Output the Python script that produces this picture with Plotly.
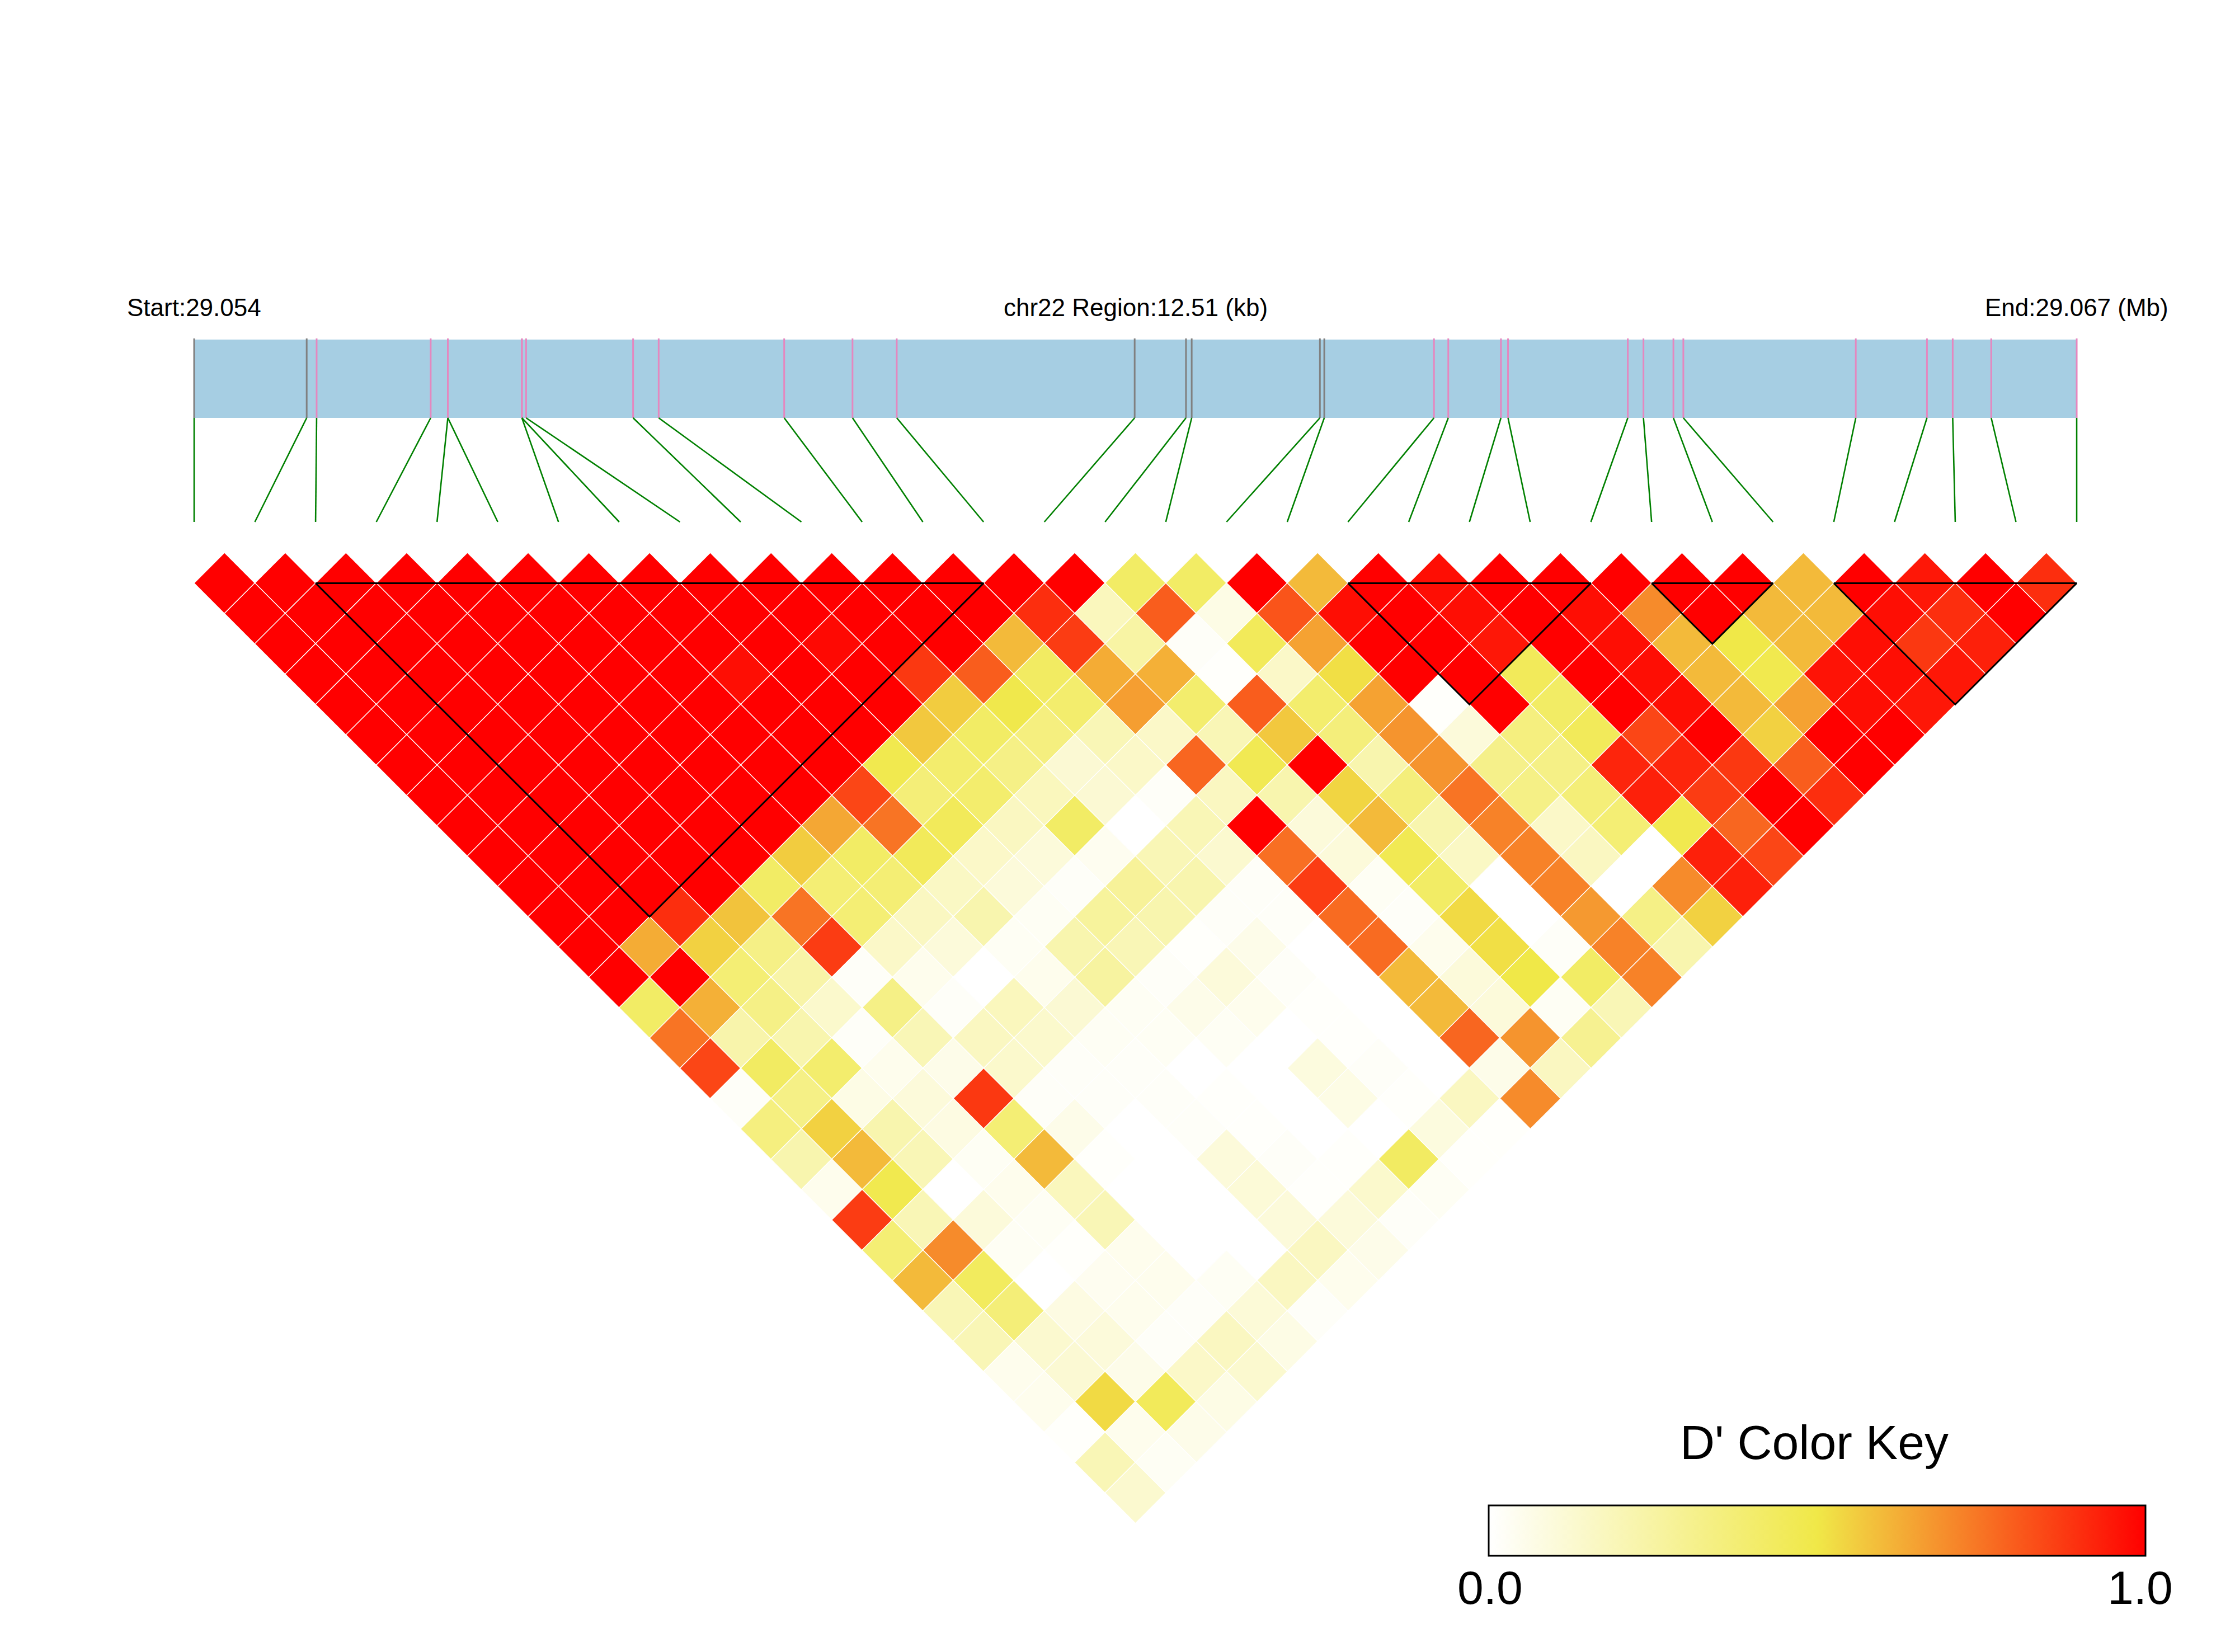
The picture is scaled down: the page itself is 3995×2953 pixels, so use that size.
import plotly.graph_objects as go

# --- SNP positions along the region, kb from region start ---
snp_pos_kb = [0.000, 0.748, 0.814, 1.572, 1.686, 1.686, 2.178, 2.178, 2.206, 2.917, 3.087,
              3.921, 4.375, 4.669, 6.250, 6.591, 6.629, 7.481, 7.510, 8.239, 8.334, 8.684,
              8.731, 9.527, 9.631, 9.830, 9.896, 11.042, 11.515, 11.686, 11.942, 12.510]
region_kb = 12.51

# --- LD blocks (first SNP, last SNP) ---
blocks = [(2, 13), (19, 23), (24, 26), (27, 31)]

# --- D' values; d_kk = pairs of SNPs kk apart, left to right ---
d_01 = [1,1,1,1,1,1,1,1,1,1,1,1,1,1,1,.42,.42,1,.6,1,.97,1,1,1,1,1,.6,1,.95,1,.9]
d_02 = [1,1,1,1,1,1,1,1,1,1,1,1,1,.9,.18,.8,.07,.82,.97,1,.97,1,.97,.7,1,.6,.6,.97,.9,1]
d_03 = [1,1,1,1,1,1,1,1,1,.98,1,1,.6,.87,.25,.02,.45,.65,1,1,.95,1,.97,.6,.5,.6,.97,.88,.93]
d_04 = [1,1,1,1,1,1,1,.97,1,1,.88,.8,.43,.63,.62,.01,.15,.52,1,1,.45,1,.97,.6,.48,.96,.97,.95]
d_05 = [1,1,1,1,1,1,1,1,1,1,.56,.49,.4,.66,.4,.8,.4,.65,.01,1,.42,1,.97,.6,.65,.97,.95]
d_06 = [1,1,1,1,1,1,1,1,1,.57,.42,.35,.2,.15,.2,.57,.36,.68,.1,.35,.45,.85,1,.55,1,1]
d_07 = [1,1,1,1,1,1,1,1,.48,.4,.33,.12,.15,.78,.47,1,.22,.68,.32,.33,.92,.92,.88,.8,1]
d_08 = [1,1,1,1,1,1,1,.85,.37,.4,.18,.12,.02,.17,.22,.54,.36,.75,.33,.37,.93,.87,1,.9]
d_09 = [1,1,1,1,1,1,.64,.75,.45,.17,.42,0,.2,1,.1,.6,.22,.72,.15,.38,.48,.78,1]
d_10 = [1,1,1,1,1,.56,.42,.45,.15,.1,.04,.2,.13,.76,.1,.47,.16,.72,.17,0,.93,.85]
d_11 = [1,1,1,1,.42,.38,.38,.16,.1,.02,.28,.22,.02,.87,.03,.42,0,.72,0,.7,.93]
d_12 = [1,1,.9,.58,.75,.38,.17,.22,.03,.27,.22,.02,.02,.77,.02,.53,0,.67,.33,.55]
d_13 = [1,.63,.55,.33,.87,.15,.1,.03,.22,.2,.01,.06,0,.77,.05,.52,.02,.72,.22]
d_14 = [1,1,.38,.24,.02,.05,0,.05,.26,.02,.1,.02,0,.6,.1,.5,.42,.72]
d_15 = [.42,.62,.33,.14,.33,.02,.18,.12,.03,.06,.05,.01,0,.6,.1,.03,.2]
d_16 = [.75,.23,.22,.02,.2,.17,.14,.03,.03,.03,0,.01,0,.78,.68,.3]
d_17 = [.85,.43,.4,.05,.06,.14,.02,.02,0,0,.09,.02,0,.06,.17]
d_18 = [.02,.33,.07,.1,.88,.02,.02,.02,.01,0,.07,.01,.17,.7]
d_19 = [.35,.55,.22,.08,.38,.06,0,.02,.01,0,0,.09,.01]
d_20 = [.22,.6,.2,.03,.6,.01,0,.1,.02,.01,.43,.01]
d_21 = [.05,.48,0,.05,.18,0,0,.11,.01,.14,.03]
d_22 = [.87,.2,.1,.03,.2,0,0,.1,.1,.02]
d_23 = [.38,.7,.03,.01,.05,0,0,.17,.06]
d_24 = [.6,.44,0,.04,.05,.03,.17,.05]
d_25 = [.2,.37,.08,.05,.02,.11,.02]
d_26 = [.2,.13,.1,.02,.17,.07]
d_27 = [.05,.12,.06,.15,.13]
d_28 = [.05,.53,.45,.07]
d_29 = [.01,.05,.06]
d_30 = [.2,.03]
d_31 = [.13]
d_rows = [d_01,d_02,d_03,d_04,d_05,d_06,d_07,d_08,d_09,d_10,d_11,d_12,d_13,d_14,d_15,d_16,
          d_17,d_18,d_19,d_20,d_21,d_22,d_23,d_24,d_25,d_26,d_27,d_28,d_29,d_30,d_31]

start_label = "Start:29.054"
mid_label = "chr22 Region:12.51 (kb)"
end_label = "End:29.067 (Mb)"
key_title = "D' Color Key"
key_ticks = ["0.0", "1.0"]

# --- layout constants (pixels of the 3995x2953 page) ---
W, H = 3995, 2953
X0, DX = 347.0, 108.55      # x pixel of SNP 0, pixels per SNP
Y0, DY = 1042.4, 54.2       # y pixel of row 1, pixels per row
def yrow(px):
    return 1 + (px - Y0) / DY

BAR_TOP, BAR_BOT, LINK_END = yrow(607), yrow(747), yrow(933)
TICK_TOP = yrow(605)
n = len(snp_pos_kb)
snp_x = [p / region_kb * (n - 1) for p in snp_pos_kb]

colorscale = [[0, "rgb(255,255,255)"], [0.5, "rgb(240,232,72)"], [1, "rgb(255,0,0)"]]

cx, cy, cz = [], [], []
for k, row in enumerate(d_rows, start=1):
    for p, v in enumerate(row):
        cx.append(p + k / 2)
        cy.append(k)
        cz.append(v)

in_block = [any(a <= i <= b for a, b in blocks) for i in range(n)]

def seg(idx):
    xs, ys = [], []
    for i in idx:
        xs += [snp_x[i], snp_x[i], None]
        ys += [TICK_TOP, BAR_BOT, None]
    return xs, ys

fig = go.Figure()
fig.add_shape(type="rect", xref="x", yref="y", x0=0, x1=n - 1, y0=BAR_TOP, y1=BAR_BOT,
              fillcolor="#A6CEE3", line_width=0, layer="below")

gx, gy = seg([i for i in range(n) if not in_block[i]])
fig.add_trace(go.Scatter(x=gx, y=gy, mode="lines", line=dict(color="#808080", width=3), hoverinfo="skip", showlegend=False))
px_, py_ = seg([i for i in range(n) if in_block[i]])
fig.add_trace(go.Scatter(x=px_, y=py_, mode="lines", line=dict(color="#E587BF", width=3), hoverinfo="skip", showlegend=False))

lx, ly = [], []
for i in range(n):
    lx += [snp_x[i], i, None]
    ly += [BAR_BOT, LINK_END, None]
fig.add_trace(go.Scatter(x=lx, y=ly, mode="lines", line=dict(color="#008000", width=2.6), hoverinfo="skip", showlegend=False))

fig.add_trace(go.Scatter(
    x=cx, y=cy, mode="markers", showlegend=False,
    marker=dict(symbol="diamond", size=2 * DY / 1.3 + 0.6, color=cz, cmin=0, cmax=1, colorscale=colorscale,
                line=dict(color="white", width=1.5),
                colorbar=dict(orientation="h", lenmode="pixels", len=1174, thicknessmode="pixels", thickness=90,
                              x=(2661 + 3835) / 2 / W, xanchor="center", xref="paper",
                              y=1 - 2691 / H, yanchor="top", yref="paper", ypad=0, xpad=0,
                              outlinecolor="black", outlinewidth=3,
                              showticklabels=False, ticks="", ticklen=0))))

bx, by = [], []
for a, b in blocks:
    bx += [a, b, (a + b) / 2, a, None]
    by += [1, 1, 1 + (b - a), 1, None]
fig.add_trace(go.Scatter(x=bx, y=by, mode="lines", line=dict(color="black", width=3), hoverinfo="skip", showlegend=False))

for xv, txt in [(0, start_label), ((n - 1) / 2, mid_label), (n - 1, end_label)]:
    fig.add_annotation(x=xv, y=yrow(549), xref="x", yref="y", text=txt, showarrow=False,
                       xanchor="center", yanchor="middle",
                       font=dict(family="Liberation Sans", size=44, color="black"))
fig.add_annotation(x=3243 / W, y=1 - 2578 / H, xref="paper", yref="paper", text=key_title, showarrow=False,
                   xanchor="center", yanchor="middle", font=dict(family="Liberation Sans", size=86, color="black"))
for px_x, txt in zip((2663, 3825), key_ticks):
    fig.add_annotation(x=px_x / W, y=1 - 2838 / H, xref="paper", yref="paper", text=txt, showarrow=False,
                       xanchor="center", yanchor="middle", font=dict(family="Liberation Sans", size=84, color="black"))

fig.update_layout(width=W, height=H, margin=dict(l=0, r=0, t=0, b=0, pad=0, autoexpand=False),
                  plot_bgcolor="white", paper_bgcolor="white", showlegend=False,
                  xaxis=dict(visible=False, range=[-X0 / DX, (W - X0) / DX], fixedrange=True),
                  yaxis=dict(visible=False, range=[yrow(H), yrow(0)], fixedrange=True))

fig.write_html("out.html", post_script="document.body.style.margin='0';", config={"displayModeBar": False})
